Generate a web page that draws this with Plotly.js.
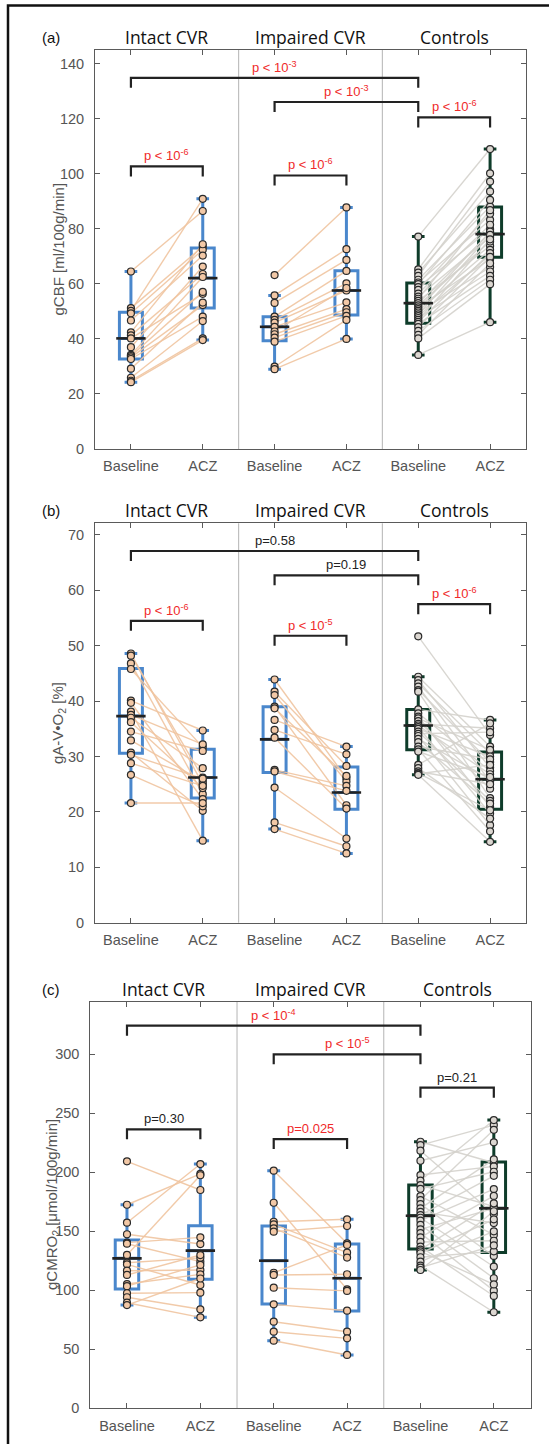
<!DOCTYPE html>
<html>
<head>
<meta charset="utf-8">
<script src="https://cdn.plot.ly/plotly-3.0.1.min.js"></script>
<style>html,body{margin:0;padding:0;background:#fff;}#chart{width:549px;height:1444px;}</style>
</head>
<body>
<div id="chart"></div>
<script>
// ---------------- categories and labels ----------------
const groupNames = ["Intact CVR", "Impaired CVR", "Controls"];
const tickLabels = ["Baseline", "ACZ", "Baseline", "ACZ", "Baseline", "ACZ"];
const tickPositions = [1, 2, 3, 4, 5, 6];
const panelLabels = ["(a)", "(b)", "(c)"];
const yTitles = ["gCBF [ml/100g/min]", "gA-V\u2022O<sub>2</sub> [%]", "gCMRO<sub>2</sub> [\u03bcmol/100g/min]"];

// ---------------- panel (a) gCBF ----------------
const cbfIntactBase = [64.5, 51.2, 50.2, 49.3, 46.7, 42.4, 41.3, 40.2, 37.0, 34.2, 33.8, 33.3, 32.7, 29.2, 25.9, 24.8, 24.3];
const cbfIntactAcz  = [86.5, 73.6, 90.9, 72.4, 70.3, 74.4, 63.6, 56.4, 66.3, 62.5, 57.1, 52.3, 48.1, 53.2, 46.5, 40.2, 39.6];
const cbfImpairedBase = [63.2, 55.8, 53.1, 48.1, 46.9, 45.9, 44.4, 42.7, 41.7, 40.5, 39.0, 29.9, 29.0];
const cbfImpairedAcz  = [87.8, 72.6, 68.7, 64.7, 60.2, 57.6, 53.3, 58.5, 50.8, 49.7, 48.4, 46.9, 40.0];
const cbfControlBase = [77.2, 65.3, 64.1, 62.9, 61.5, 60.5, 59.9, 58.8, 57.8, 56.5, 55.4, 54.6, 53.8, 53.0, 52.2, 51.5, 50.8, 50.2, 49.6, 48.9, 48.3, 47.6, 46.9, 46.2, 45.5, 44.3, 42.9, 41.5, 40.2, 34.2];
const cbfControlAcz  = [109.0, 100.2, 93.6, 97.2, 88.1, 83.3, 90.5, 79.9, 85.5, 81.5, 77.0, 86.8, 73.8, 78.4, 75.4, 69.0, 79.0, 72.4, 66.1, 77.8, 70.5, 64.5, 76.2, 71.2, 62.9, 69.8, 61.5, 67.5, 59.9, 46.1];
const cbfQ1     = [32.7, 51.2, 39.3, 48.7, 45.7, 69.7];
const cbfMedian = [40.2, 62.1, 44.4, 57.6, 53.0, 78.1];
const cbfQ3     = [49.7, 73.0, 48.1, 64.8, 60.3, 87.9];
const cbfLow    = [24.3, 39.6, 29.0, 40.0, 34.2, 46.1];
const cbfHigh   = [64.5, 90.9, 55.8, 87.8, 77.2, 109.0];
const cbfBracketFrom  = [1, 3, 5, 1, 3];
const cbfBracketTo    = [5, 5, 6, 2, 4];
const cbfBracketLevel = [134.9, 126.1, 120.5, 102.7, 99.4];
const cbfBracketText  = ["p < 10<sup>-3</sup>", "p < 10<sup>-3</sup>", "p < 10<sup>-6</sup>", "p < 10<sup>-6</sup>", "p < 10<sup>-6</sup>"];
const cbfBracketSig   = [true, true, true, true, true];

// ---------------- panel (b) gA-V O2 ----------------
const avoIntactBase = [48.6, 48.2, 46.8, 45.8, 40.1, 39.7, 38.1, 37.5, 37.0, 36.2, 34.5, 32.9, 30.7, 30.3, 28.8, 26.7, 21.6];
const avoIntactAcz  = [25.0, 26.2, 23.2, 31.7, 34.7, 22.3, 14.8, 32.2, 27.9, 24.3, 31.0, 25.5, 20.2, 26.0, 24.7, 21.0, 21.6];
const avoImpairedBase = [43.9, 41.7, 41.1, 39.0, 38.7, 36.6, 34.8, 33.4, 27.6, 27.3, 24.4, 18.1, 16.9];
const avoImpairedAcz  = [26.1, 28.3, 25.5, 21.2, 26.5, 31.8, 30.4, 20.6, 24.7, 23.8, 15.2, 13.8, 12.5];
const avoControlBase = [51.7, 44.4, 43.8, 43.2, 42.6, 42.0, 41.7, 38.5, 37.8, 37.2, 36.9, 36.4, 35.9, 35.6, 35.3, 35.0, 34.5, 34.1, 33.7, 33.2, 32.6, 31.8, 31.3, 30.9, 28.5, 27.9, 27.3, 27.0, 26.9, 26.7];
const avoControlAcz  = [33.9, 31.8, 28.0, 30.6, 25.5, 29.0, 22.5, 36.6, 27.4, 20.9, 31.2, 24.2, 35.1, 26.8, 19.7, 30.0, 22.0, 34.4, 17.6, 25.9, 21.5, 29.5, 16.5, 26.3, 36.0, 18.8, 25.0, 20.3, 28.5, 14.6];
const avoQ1     = [30.6, 22.5, 27.1, 20.5, 31.2, 20.5];
const avoMedian = [37.3, 26.2, 33.1, 23.5, 35.6, 25.9];
const avoQ3     = [45.9, 31.3, 39.0, 28.1, 38.5, 30.8];
const avoLow    = [21.6, 14.8, 16.9, 12.5, 26.7, 14.6];
const avoHigh   = [48.6, 34.7, 43.9, 31.8, 44.4, 36.6];
const avoBracketFrom  = [1, 3, 5, 1, 3];
const avoBracketTo    = [5, 5, 6, 2, 4];
const avoBracketLevel = [67.1, 62.7, 57.5, 54.5, 51.8];
const avoBracketText  = ["p=0.58", "p=0.19", "p < 10<sup>-6</sup>", "p < 10<sup>-6</sup>", "p < 10<sup>-5</sup>"];
const avoBracketSig   = [false, false, true, true, true];

// ---------------- panel (c) gCMRO2 ----------------
const cmrIntactBase = [209.3, 172.5, 157.3, 147.5, 140.4, 139.5, 130.0, 123.4, 122.0, 116.6, 113.0, 105.3, 103.5, 97.5, 94.1, 89.5, 87.5];
const cmrIntactAcz  = [185.0, 198.6, 207.0, 139.2, 144.9, 124.3, 197.5, 127.5, 104.5, 117.2, 129.9, 113.5, 121.5, 98.0, 83.9, 77.1, 110.0];
const cmrImpairedBase = [201.4, 174.2, 158.1, 155.8, 152.5, 149.7, 114.9, 113.0, 102.2, 88.1, 73.4, 64.9, 57.3];
const cmrImpairedAcz  = [139.8, 100.8, 160.2, 131.9, 127.7, 154.5, 138.5, 113.6, 99.5, 82.7, 64.9, 59.3, 45.2];
const cmrControlBase = [225.9, 223.0, 218.3, 209.8, 197.7, 193.0, 189.2, 186.0, 179.9, 176.5, 173.1, 169.5, 166.5, 163.8, 161.5, 159.0, 155.5, 151.7, 148.5, 144.9, 141.0, 137.0, 134.5, 133.0, 131.4, 128.0, 124.3, 121.0, 119.2, 117.2];
const cmrControlAcz  = [208.1, 240.0, 164.7, 225.4, 205.0, 244.3, 171.0, 200.5, 146.9, 236.0, 129.1, 211.0, 157.0, 197.0, 120.0, 185.8, 110.2, 169.5, 99.7, 180.0, 142.0, 95.2, 173.7, 105.0, 160.2, 133.0, 150.0, 81.4, 138.0, 167.0];
const cmrQ1     = [101.1, 109.3, 88.4, 82.5, 135.0, 132.0];
const cmrMedian = [127.1, 133.6, 125.1, 110.2, 163.2, 169.5];
const cmrQ3     = [142.6, 154.8, 154.5, 139.2, 189.2, 208.8];
const cmrLow    = [87.5, 77.1, 57.3, 45.2, 117.2, 81.4];
const cmrHigh   = [172.5, 207.0, 201.4, 160.2, 225.9, 244.3];
const cmrBracketFrom  = [1, 3, 5, 1, 3];
const cmrBracketTo    = [5, 5, 6, 2, 4];
const cmrBracketLevel = [324.3, 300.0, 271.7, 236.4, 228.2];
const cmrBracketText  = ["p < 10<sup>-4</sup>", "p < 10<sup>-5</sup>", "p=0.21", "p=0.30", "p=0.025"];
const cmrBracketSig   = [true, true, false, false, true];

// ---------------- styling / layout geometry ----------------
const W = 549, H = 1444;
const panelsPx = [
  {x0: 95, x1: 526, top: 50, bottom: 449, yRange: [0, 145], dtick: 20, titleX: 58},
  {x0: 95, x1: 526, top: 523.3, bottom: 922.7, yRange: [0, 72.1], dtick: 10, titleX: 58},
  {x0: 90.3, x1: 530.5, top: 1001.7, bottom: 1408.3, yRange: [0, 344.6], dtick: 50, titleX: 52}
];
const panels = [
  {base: [cbfIntactBase, cbfImpairedBase, cbfControlBase], acz: [cbfIntactAcz, cbfImpairedAcz, cbfControlAcz],
   q1: cbfQ1, med: cbfMedian, q3: cbfQ3, lo: cbfLow, hi: cbfHigh,
   bf: cbfBracketFrom, bt: cbfBracketTo, bl: cbfBracketLevel, btx: cbfBracketText, bs: cbfBracketSig},
  {base: [avoIntactBase, avoImpairedBase, avoControlBase], acz: [avoIntactAcz, avoImpairedAcz, avoControlAcz],
   q1: avoQ1, med: avoMedian, q3: avoQ3, lo: avoLow, hi: avoHigh,
   bf: avoBracketFrom, bt: avoBracketTo, bl: avoBracketLevel, btx: avoBracketText, bs: avoBracketSig},
  {base: [cmrIntactBase, cmrImpairedBase, cmrControlBase], acz: [cmrIntactAcz, cmrImpairedAcz, cmrControlAcz],
   q1: cmrQ1, med: cmrMedian, q3: cmrQ3, lo: cmrLow, hi: cmrHigh,
   bf: cmrBracketFrom, bt: cmrBracketTo, bl: cmrBracketLevel, btx: cmrBracketText, bs: cmrBracketSig}
];

const BLUE = "#4a87cc", GREEN = "#0e3c2a";
const PEACH = "#f2c8a6", PEACH_LINE = "rgba(240,196,160,0.9)";
const GREYPT = "#dcd7d1", GREY_LINE = "rgba(212,209,204,0.9)";
const AXIS = "#5a5a5a", TICKTXT = "#555555", RED = "#f02a2a";
const TICKFONT = "Liberation Sans, Arial, sans-serif";

const traces = [];
const annotations = [];
const shapes = [];
const layout = {
  width: W, height: H,
  margin: {l: 0, r: 0, t: 0, b: 0},
  paper_bgcolor: "#fff", plot_bgcolor: "#fff",
  showlegend: false, boxmode: "overlay",
  font: {family: TICKFONT, color: TICKTXT}
};

panels.forEach((P, k) => {
  const s = k === 0 ? "" : String(k + 1);
  const xa = "x" + s, ya = "y" + s;
  const g = panelsPx[k];
  layout["xaxis" + s] = {
    domain: [g.x0 / W, g.x1 / W], anchor: ya, range: [0.5, 6.5],
    tickvals: tickPositions, ticktext: tickLabels,
    ticks: "inside", ticklen: 5, tickcolor: AXIS, mirror: "ticks",
    showline: true, linecolor: AXIS, linewidth: 1,
    showgrid: false, zeroline: false, ticklabelstandoff: 4,
    tickfont: {family: TICKFONT, size: 14.5, color: TICKTXT}, fixedrange: true
  };
  layout["yaxis" + s] = {
    domain: [1 - g.bottom / H, 1 - g.top / H], anchor: xa, range: g.yRange, dtick: g.dtick,
    ticks: "inside", ticklen: 5, tickcolor: AXIS, mirror: "ticks",
    showline: true, linecolor: AXIS, linewidth: 1,
    showgrid: false, zeroline: false, ticklabelstandoff: 7,
    tickfont: {family: TICKFONT, size: 14.5, color: TICKTXT}, fixedrange: true
  };
  // group separators (between the three groups)
  [2.5, 4.5].forEach(xv => shapes.push({type: "line", xref: xa, yref: ya + " domain", x0: xv, x1: xv, y0: 0, y1: 1,
    line: {color: "#b4b4b4", width: 1}, layer: "below"}));

  const pxPerUnit = (g.bottom - g.top) / (g.yRange[1] - g.yRange[0]);
  const leg = 10 / pxPerUnit;

  for (let gi = 0; gi < 3; gi++) {
    const isCtrl = gi === 2;
    const pb = 2 * gi + 1, pa = 2 * gi + 2;
    const b = P.base[gi], a = P.acz[gi];
    const lx = [], ly = [];
    b.forEach((v, i) => { lx.push(pb, pa, null); ly.push(v, a[i], null); });
    traces.push({type: "scatter", mode: "lines", x: lx, y: ly, xaxis: xa, yaxis: ya,
      line: {color: isCtrl ? GREY_LINE : PEACH_LINE, width: 1.4}, hoverinfo: "skip"});
    const idx = [pb - 1, pa - 1];
    traces.push({type: "box", x: [pb, pa], xaxis: xa, yaxis: ya,
      q1: idx.map(i => P.q1[i]), median: idx.map(i => P.med[i]), q3: idx.map(i => P.q3[i]),
      lowerfence: idx.map(i => P.lo[i]), upperfence: idx.map(i => P.hi[i]),
      width: 0.32, whiskerwidth: 0.55, boxpoints: false,
      line: {color: isCtrl ? GREEN : BLUE, width: 3}, fillcolor: "rgba(0,0,0,0)", hoverinfo: "skip"});
  }
  // medians
  traces.push({type: "scatter", mode: "markers", x: tickPositions, y: P.med, xaxis: xa, yaxis: ya,
    marker: {symbol: "line-ew", size: 21, line: {color: "#222", width: 2.6}}, hoverinfo: "skip"});
  for (let gi = 0; gi < 3; gi++) {
    const isCtrl = gi === 2;
    const pb = 2 * gi + 1, pa = 2 * gi + 2;
    const b = P.base[gi], a = P.acz[gi];
    traces.push({type: "scatter", mode: "markers",
      x: b.map(() => pb).concat(a.map(() => pa)), y: b.concat(a), xaxis: xa, yaxis: ya,
      marker: {size: 7, color: isCtrl ? GREYPT : PEACH, line: {color: "#2a2a2a", width: 1.2}}, hoverinfo: "skip"});
  }
  // brackets
  P.bf.forEach((x1, i) => {
    const x2 = P.bt[i], lv = P.bl[i];
    traces.push({type: "scatter", mode: "lines", x: [x1, x1, x2, x2], y: [lv - leg, lv, lv, lv - leg],
      xaxis: xa, yaxis: ya, line: {color: "#222", width: 2.2}, hoverinfo: "skip"});
    annotations.push({xref: xa, yref: ya, x: (x1 + x2) / 2, y: lv, yanchor: "bottom", xanchor: "center",
      text: P.btx[i], showarrow: false, yshift: 1,
      font: {family: TICKFONT, size: 13, color: P.bs[i] ? RED : "#222"}});
  });
  // group titles
  groupNames.forEach((name, gi) => annotations.push({xref: xa, yref: ya + " domain", x: 2 * gi + 1.5, y: 1,
    yanchor: "bottom", xanchor: "center", text: name, showarrow: false, yshift: -1,
    font: {family: "Open Sans, Noto Sans, sans-serif", size: 17.5, color: "#111"}}));
  // panel label
  annotations.push({xref: "paper", yref: ya + " domain", x: 40 / W, y: 1, xanchor: "left", yanchor: "bottom",
    text: panelLabels[k], showarrow: false, yshift: 2, font: {family: TICKFONT, size: 15, color: "#111"}});
  // y title
  annotations.push({xref: "paper", yref: ya + " domain", x: g.titleX / W, y: 0.5, xanchor: "center", yanchor: "middle",
    text: yTitles[k], textangle: -90, showarrow: false, font: {family: TICKFONT, size: 15, color: TICKTXT}});
});

// outer figure frame
shapes.push({type: "rect", xref: "paper", yref: "paper", x0: 8 / W, x1: 1.02, y0: -0.02, y1: 1 - 5.5 / H,
  line: {color: "#111", width: 2.5}});

layout.annotations = annotations;
layout.shapes = shapes;
Plotly.newPlot("chart", traces, layout, {displayModeBar: false, staticPlot: true});
</script>
</body>
</html>
